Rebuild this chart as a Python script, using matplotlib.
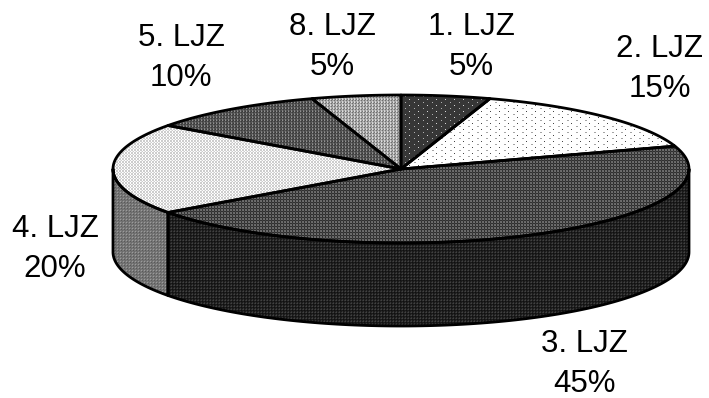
import numpy as np
import matplotlib
matplotlib.use("Agg")
import matplotlib.pyplot as plt
from matplotlib.patches import Polygon

categories = ["1. LJZ", "2. LJZ", "3. LJZ", "4. LJZ", "5. LJZ", "8. LJZ"]
values = [5, 15, 45, 20, 10, 5]

W, H = 709, 398
CX, CY, RX, RY, DEPTH = 401, 169, 288, 74, 83
LABEL_POS = [(471, 47), (660, 69), (584, 364), (55, 249), (181, 58), (332, 47)]


def tile(base, spots, shape):
    t = np.full(shape, base, dtype=float)
    for r, c, v in spots:
        t[r, c] = v
    return t


TOP_TILES = [
    tile(55, [(0, 0, 175), (3, 4, 215)], (6, 9)),
    tile(255, [(0, 0, 165), (0, 1, 165), (3, 4, 70)], (6, 9)),
    tile(48, [(0, 0, 112), (0, 2, 105), (2, 0, 105), (2, 2, 105), (1, 1, 65)], (3, 3)),
    tile(255, [(0, 0, 205), (1, 1, 205), (0, 2, 205), (2, 0, 205), (2, 2, 205), (1, 0, 235)], (3, 3)),
    tile(82, [(0, 0, 145), (1, 1, 60), (0, 2, 55), (2, 0, 125)], (3, 3)),
    tile(165, [(0, 0, 225), (1, 1, 110), (0, 2, 120), (2, 0, 210)], (3, 3)),
]
SIDE_TILES = {
    2: tile(26, [(0, 0, 66), (0, 2, 50), (2, 0, 50), (1, 1, 16)], (3, 3)),
    3: tile(118, [(0, 0, 155), (1, 1, 90), (2, 2, 105)], (3, 3)),
}


def textured(ax, verts, pattern):
    poly = Polygon(verts, closed=True, facecolor="none", edgecolor="black",
                   linewidth=2.0, joinstyle="round", zorder=3)
    ax.add_patch(poly)
    rows = H // pattern.shape[0] + 1
    cols = W // pattern.shape[1] + 1
    img = np.tile(pattern, (rows, cols))[:H, :W]
    im = ax.imshow(img, cmap="gray", vmin=0, vmax=255, extent=(0, W, H, 0),
                   interpolation="nearest", aspect="auto", zorder=2)
    im.set_clip_path(poly)


def rim(a0, a1, n=120, dy=0.0):
    t = np.radians(np.linspace(a0, a1, n))
    return np.column_stack([CX + RX * np.sin(t), CY + dy - RY * np.cos(t)])


fig = plt.figure(figsize=(W / 100, H / 100), dpi=100)
ax = fig.add_axes([0, 0, 1, 1])

edges = np.concatenate([[0], np.cumsum(values)]) / np.sum(values) * 360

# visible outer wall: the front half of the disc
for i, pattern in SIDE_TILES.items():
    a0, a1 = max(edges[i], 90), min(edges[i + 1], 270)
    if a1 > a0:
        textured(ax, np.vstack([rim(a0, a1), rim(a1, a0, dy=DEPTH)]), pattern)

# top face
for i, pattern in enumerate(TOP_TILES):
    textured(ax, np.vstack([[[CX, CY]], rim(edges[i], edges[i + 1])]), pattern)

for name, val, (x, y) in zip(categories, values, LABEL_POS):
    ax.text(x, y, f"{name}\n{val}%", ha="center", va="center", ma="center",
            fontsize=22.5, family="Liberation Sans", color="black",
            linespacing=1.42, zorder=5)

ax.set_xlim(0, W)
ax.set_ylim(H, 0)
ax.axis("off")
fig.savefig("out.png", dpi=100, facecolor="white")
